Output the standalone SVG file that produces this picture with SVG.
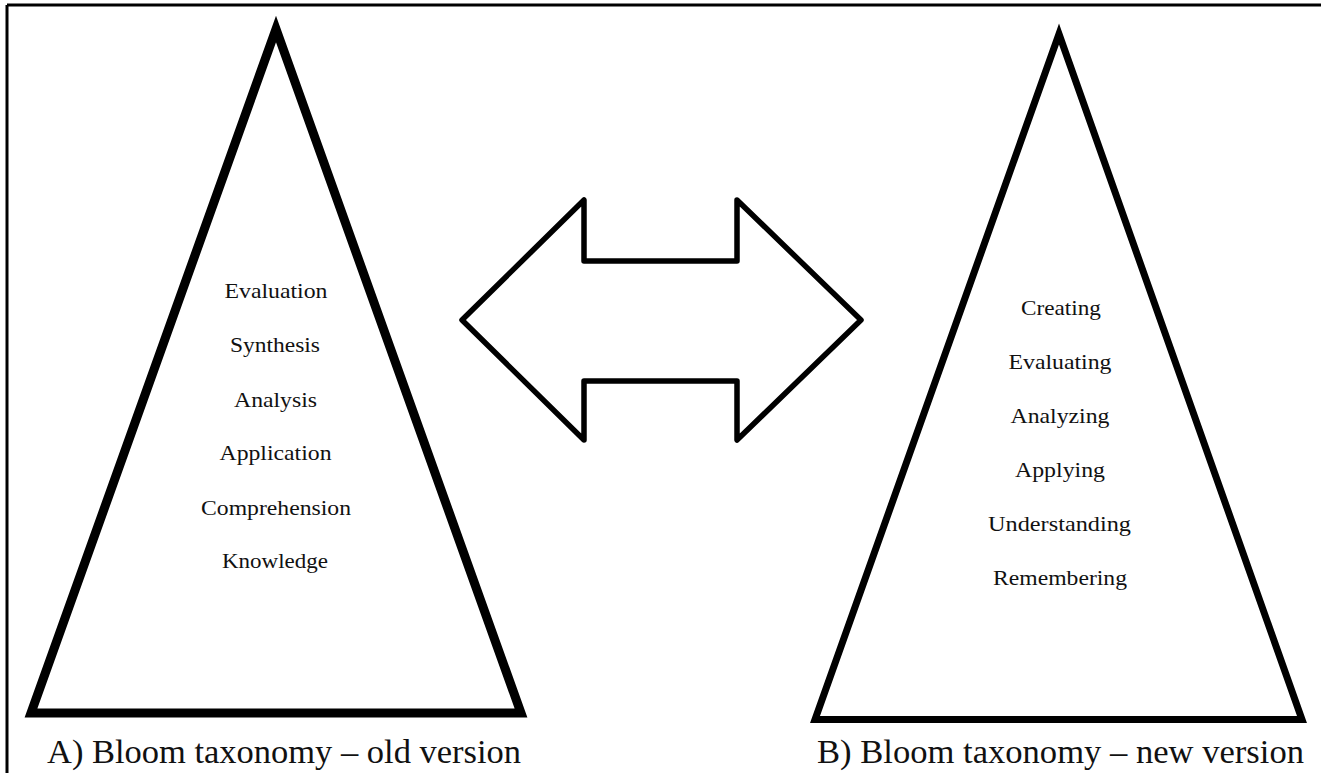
<svg xmlns="http://www.w3.org/2000/svg" width="1321" height="773" viewBox="0 0 1321 773">
<style>
.tri{fill:#fff;stroke:#000;stroke-linejoin:miter;stroke-miterlimit:20}
.lbl{font-family:"Liberation Serif","Times New Roman",serif;font-size:22px;fill:#111;text-anchor:middle}
.ttl{font-family:"Liberation Serif","Times New Roman",serif;font-size:33px;fill:#111;text-anchor:middle}
.frame{stroke:#000;stroke-width:3;fill:none}
</style>
<rect x="0" y="0" width="1321" height="773" fill="#fff"/>
<g id="frame">
<line class="frame" x1="7" y1="5" x2="1321" y2="5"/>
<line class="frame" x1="7" y1="5" x2="7" y2="773"/>
</g>
<g id="old-pyramid">
<path class="tri" stroke-width="9" d="M276,29 L521,713 L31,713 Z"/>
<text class="lbl" x="276" y="298" textLength="103" lengthAdjust="spacingAndGlyphs">Evaluation</text>
<text class="lbl" x="275" y="352" textLength="90" lengthAdjust="spacingAndGlyphs">Synthesis</text>
<text class="lbl" x="275.5" y="407" textLength="83" lengthAdjust="spacingAndGlyphs">Analysis</text>
<text class="lbl" x="275.5" y="460" textLength="112" lengthAdjust="spacingAndGlyphs">Application</text>
<text class="lbl" x="276" y="515" textLength="150" lengthAdjust="spacingAndGlyphs">Comprehension</text>
<text class="lbl" x="275" y="568" textLength="106" lengthAdjust="spacingAndGlyphs">Knowledge</text>
<text class="ttl" x="284" y="763" textLength="474" lengthAdjust="spacingAndGlyphs">A) Bloom taxonomy – old version</text>
</g>
<g id="new-pyramid">
<path class="tri" stroke-width="7" d="M1059,34 L1302,719.5 L815,719.5 Z"/>
<text class="lbl" x="1061" y="315" textLength="80" lengthAdjust="spacingAndGlyphs">Creating</text>
<text class="lbl" x="1060" y="369" textLength="103" lengthAdjust="spacingAndGlyphs">Evaluating</text>
<text class="lbl" x="1060" y="423" textLength="99" lengthAdjust="spacingAndGlyphs">Analyzing</text>
<text class="lbl" x="1060" y="477" textLength="90" lengthAdjust="spacingAndGlyphs">Applying</text>
<text class="lbl" x="1059.5" y="531" textLength="143" lengthAdjust="spacingAndGlyphs">Understanding</text>
<text class="lbl" x="1060" y="585" textLength="134" lengthAdjust="spacingAndGlyphs">Remembering</text>
<text class="ttl" x="1060.5" y="763" textLength="487" lengthAdjust="spacingAndGlyphs">B) Bloom taxonomy – new version</text>
</g>
<g id="connectors">
<path d="M462,320 L584,200 L584,261 L737,261 L737,200 L861,320 L737,440 L737,381 L584,381 L584,440 Z" fill="#fff" stroke="#000" stroke-width="5.5" stroke-linejoin="round"/>
</g>
</svg>
